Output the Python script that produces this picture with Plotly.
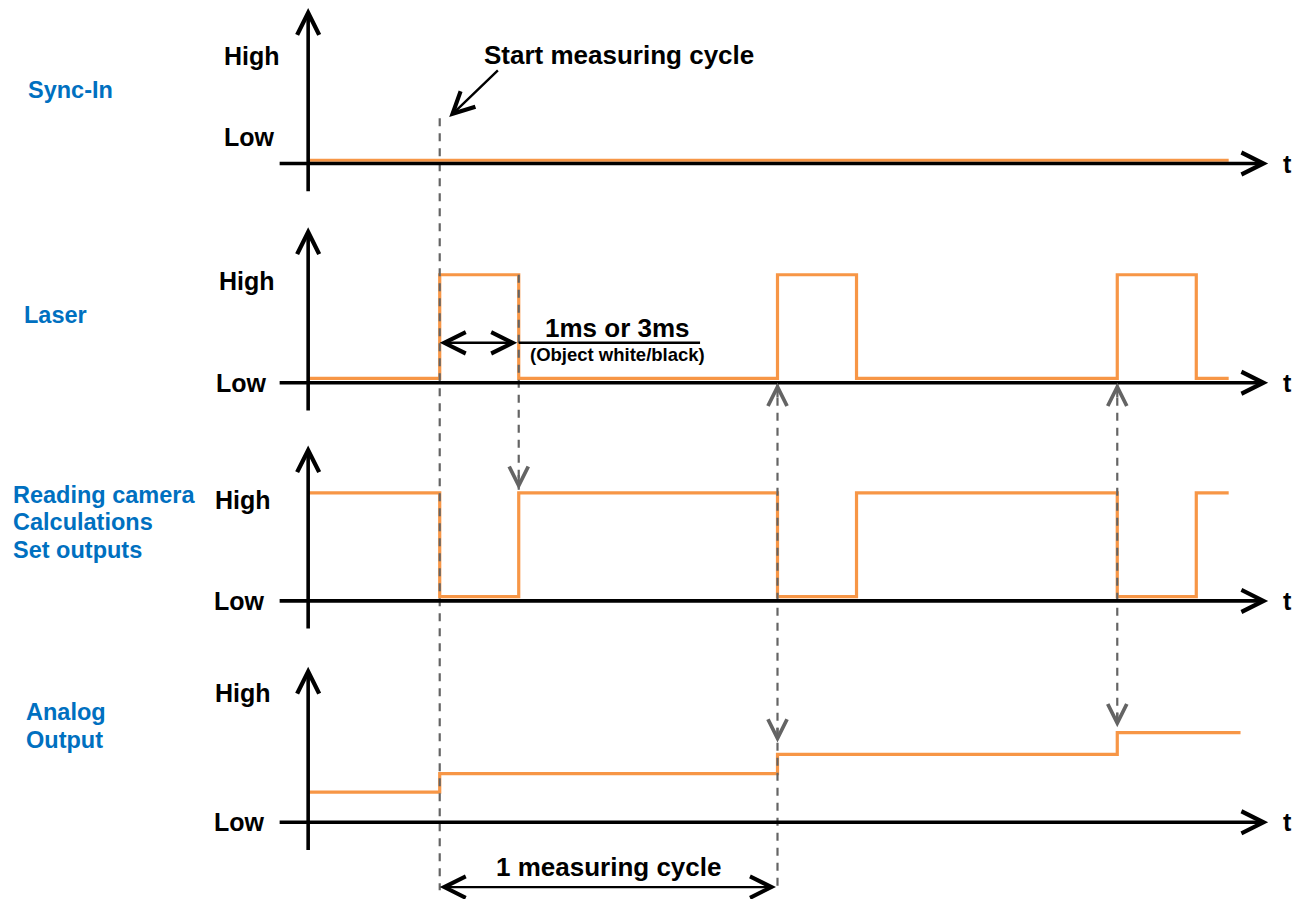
import plotly.graph_objects as go

ORANGE = "#F79646"
BLUE = "#0070C0"
GREY = "#646464"
FONT = "Liberation Sans, Arial, sans-serif"

# time axis in ms (laser pulse = 1 unit), y axis in signal levels, lanes stacked downwards
LANE_NAMES = [["Sync-In"], ["Laser"], ["Reading camera", "Calculations", "Set outputs"], ["Analog", "Output"]]
LANE_BASE = [0.0, -2.03, -4.05, -6.10]

SYNC_T = [0.0, 11.65]
SYNC_LEVEL = [0.03, 0.03]

LASER_T = [0.0, 1.665, 2.665, 5.94, 6.94, 10.24, 11.24, 11.65]
LASER_LEVEL = [0.04, 1.0, 0.04, 1.0, 0.04, 1.0, 0.04, 0.04]

READ_T = [0.0, 1.665, 2.665, 5.94, 6.94, 10.24, 11.24, 11.65]
READ_LEVEL = [1.0, 0.04, 1.0, 0.04, 1.0, 0.04, 1.0, 1.0]

ANALOG_T = [0.0, 1.665, 5.94, 10.24, 11.8]
ANALOG_LEVEL = [0.28, 0.45, 0.63, 0.83, 0.83]

SIGNALS = [(SYNC_T, SYNC_LEVEL), (LASER_T, LASER_LEVEL), (READ_T, READ_LEVEL), (ANALOG_T, ANALOG_LEVEL)]

# dashed timing markers: time, from, to (absolute y)
DASH_T = [1.665, 2.665, 5.94, 10.24]
DASH_FROM = [0.42, -1.03, -2.03, -2.03]
DASH_TO = [-6.73, -3.02, -6.73, -5.22]
# arrow tips on the dashed markers: time, y, direction (+1 up, -1 down)
TIP_T = [2.665, 5.94, 5.94, 10.24, 10.24]
TIP_Y = [-3.02, -2.03, -5.36, -2.03, -5.22]
TIP_DIR = [-1, 1, -1, 1, -1]

HIGH_Y = [1.0, 0.94, 0.935, 1.2]
LOW_Y = [0.245, 0.0, 0.0, 0.0]
HIGH_X = [-0.33, -0.39, -0.45, -0.45]
LOW_X = [-0.39, -0.5, -0.52, -0.52]
NAME_X = [-3.57, -3.62, -3.76, -3.59]
NAME_Y = [[0.68], [0.63], [0.98, 0.73, 0.47], [1.02, 0.76]]

AXIS_START, AXIS_END = -0.38, 12.15
AXIS_TOP, AXIS_BOTTOM = 1.44, -0.27

fig = go.Figure()

for base, (t, lev) in zip(LANE_BASE, SIGNALS):
    fig.add_trace(go.Scatter(
        x=t, y=[base + v for v in lev], mode="lines", line=dict(color=ORANGE, width=3.2, shape="hv"),
        hoverinfo="skip", showlegend=False,
    ))

for t, y0, y1 in zip(DASH_T, DASH_FROM, DASH_TO):
    fig.add_trace(go.Scatter(
        x=[t, t], y=[y0, y1], mode="lines", line=dict(color=GREY, width=2.2, dash="8px,7px"),
        hoverinfo="skip", showlegend=False,
    ))

ann = []


def arrow(x, y, ax, ay, width=3.6, size=1.2, color="black", both=False):
    d = dict(x=x, y=y, ax=ax, ay=ay, xref="x", yref="y", axref="x", ayref="y", text="",
             showarrow=True, arrowhead=5, arrowwidth=width, arrowsize=size, arrowcolor=color)
    if both:
        d.update(arrowside="end+start", startarrowhead=5, startarrowsize=size)
    ann.append(d)


def label(text, x, y, size=26, color="black", xanchor="center"):
    ann.append(dict(x=x, y=y, xref="x", yref="y", text=text, showarrow=False, xanchor=xanchor,
                    yanchor="middle", font=dict(family=FONT, size=size, color=color, weight="bold")))


for i, base in enumerate(LANE_BASE):
    arrow(AXIS_END, base, AXIS_START, base)
    arrow(0, base + AXIS_TOP, 0, base + AXIS_BOTTOM)
    label("t", 12.39, base, size=25)
    label("High", HIGH_X[i], base + HIGH_Y[i], size=25, xanchor="right")
    label("Low", LOW_X[i], base + LOW_Y[i], size=25, xanchor="right")
    for name, ny in zip(LANE_NAMES[i], NAME_Y[i]):
        label(name, NAME_X[i], base + ny, size=23.5, color=BLUE, xanchor="left")

for t, y, d in zip(TIP_T, TIP_Y, TIP_DIR):
    arrow(t, y, t, y - d * 0.15, width=2.2, size=1.7, color=GREY)

# start of measuring cycle
label("Start measuring cycle", 3.94, 1.005)
arrow(1.785, 0.43, 2.42, 0.875, width=2.4, size=1.75)

# laser pulse width
arrow(1.665, -1.66, 2.665, -1.66, width=2.4, size=1.75, both=True)
fig.add_trace(go.Scatter(x=[2.665, 4.96], y=[-1.66, -1.66], mode="lines",
                         line=dict(color="black", width=2.4), hoverinfo="skip", showlegend=False))
label("1ms or 3ms", 3.91, -1.52, size=26)
label("(Object white/black)", 3.91, -1.77, size=18.5)

# measuring cycle length
arrow(1.665, -6.70, 5.94, -6.70, width=2.4, size=1.75, both=True)
label("1 measuring cycle", 3.8, -6.515)

fig.update_layout(
    width=1299, height=899, margin=dict(l=0, r=0, t=0, b=0),
    plot_bgcolor="white", paper_bgcolor="white",
    xaxis=dict(range=[-3.9, 12.54], visible=False, fixedrange=True),
    yaxis=dict(range=[-6.81, 1.514], visible=False, fixedrange=True),
    annotations=ann, showlegend=False,
)

fig.write_html("out.html", config={"displayModeBar": False},
               post_script="document.body.style.margin = '0';")
